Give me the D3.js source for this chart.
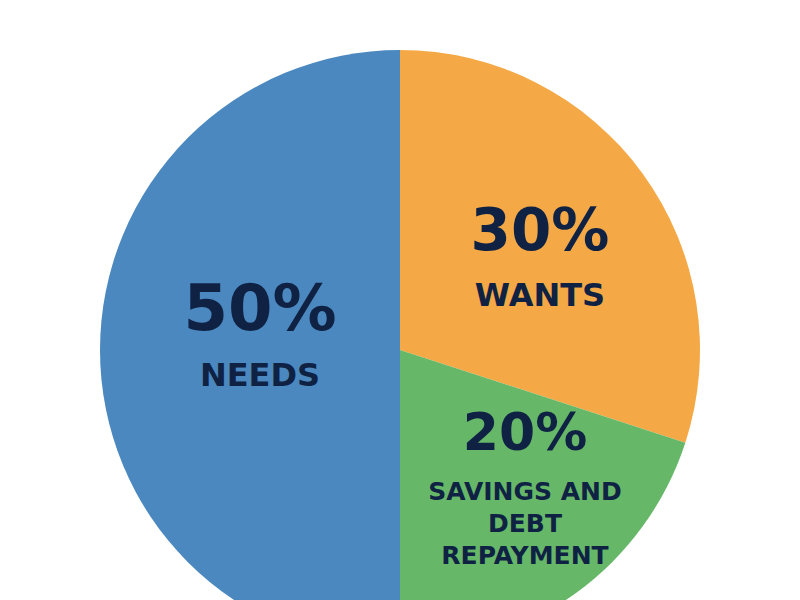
<!DOCTYPE html>
<html><head><meta charset="utf-8">
<script src="https://cdn.jsdelivr.net/npm/d3@7"></script>
<style>body{margin:0;background:#fff}</style></head>
<body><svg width="800" height="600"></svg>
<script>
const categories = ["WANTS", "SAVINGS AND DEBT REPAYMENT", "NEEDS"];
const values = [30, 20, 50];
const percentLabels = ["30%", "20%", "50%"];
const nameLines = [["WANTS"], ["SAVINGS AND", "DEBT", "REPAYMENT"], ["NEEDS"]];
const colors = ["#f4a946", "#66b868", "#4a88bf"];

const svg = d3.select("svg");
const cx = 400, cy = 350, r = 300;
const g = svg.append("g").attr("transform", `translate(${cx},${cy})`);
const pie = d3.pie().sort(null).value(d => d)(values);
const arc = d3.arc().innerRadius(0).outerRadius(r);
g.selectAll("path").data(pie).join("path").attr("d", arc).attr("fill", (d, i) => colors[i]);

const pos = [[140, -100], [125, 100], [-140, -20]];
const pctSize = [58, 52, 64];
const nameSize = [32, 25, 32];
pie.forEach((d, i) => {
  const [x, y] = pos[i];
  g.append("text").attr("x", x).attr("y", y).attr("text-anchor", "middle")
    .attr("font-family", "DejaVu Sans").attr("font-weight", "bold")
    .attr("font-size", pctSize[i]).attr("fill", "#0f2244").text(percentLabels[i]);
  nameLines[i].forEach((ln, j) => {
    g.append("text").attr("x", x).attr("y", y + (i === 1 ? 50 : 56) + j * (nameSize[i] + 7))
      .attr("text-anchor", "middle").attr("font-family", "DejaVu Sans").attr("font-weight", "bold")
      .attr("font-size", nameSize[i]).attr("fill", "#0f2244").text(ln);
  });
});
</script></body></html>
